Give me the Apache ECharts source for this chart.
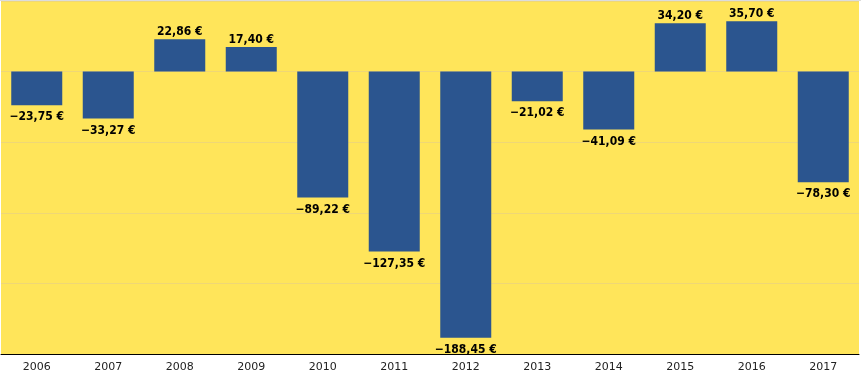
<!DOCTYPE html>
<html>
<head>
<meta charset="utf-8">
<script src="https://cdn.jsdelivr.net/npm/echarts@6/dist/echarts.min.js"></script>
<style>html,body{margin:0;padding:0;background:#fff;}#c{width:861px;height:391px;}</style>
</head>
<body>
<div id="c"></div>
<script>
const categories = ['2006','2007','2008','2009','2010','2011','2012','2013','2014','2015','2016','2017'];
const values = [-23.75, -33.27, 22.86, 17.40, -89.22, -127.35, -188.45, -21.02, -41.09, 34.20, 35.70, -78.30];

function fmt(v) {
  const s = Math.abs(v).toFixed(2).replace('.', ',');
  return (v < 0 ? '\u2212' : '') + s + ' \u20ac';
}

const chart = echarts.init(document.getElementById('c'));
chart.setOption({
  animation: false,
  backgroundColor: '#fff',
  grid: { left: 1, right: 2, top: 1, bottom: 37, show: true, backgroundColor: '#FFE55A', borderWidth: 0 },
  graphic: [{ type: 'rect', shape: { x: 0, y: 0, width: 861, height: 1 }, style: { fill: '#dcdcdc' } }],
  xAxis: {
    type: 'category', data: categories,
    axisLine: { onZero: false, lineStyle: { color: '#000', width: 1 } },
    axisTick: { show: false },
    axisLabel: { color: '#222', fontSize: 11, fontFamily: 'DejaVu Sans', margin: 8 }
  },
  yAxis: {
    type: 'value', min: -200, max: 50, interval: 50,
    axisLabel: { show: false }, axisLine: { show: false }, axisTick: { show: false },
    splitLine: { lineStyle: { color: '#EFD776', width: 1 } }
  },
  series: [{
    type: 'bar',
    barWidth: 51,
    data: values.map(v => ({
      value: v,
      label: { position: v < 0 ? 'bottom' : 'top', distance: v < 0 ? 6 : 1 }
    })),
    itemStyle: { color: '#2B558F' },
    label: {
      show: true, color: '#000', fontSize: 12, fontFamily: 'DejaVu Sans Condensed', fontWeight: 'bold',
      formatter: p => fmt(p.value)
    }
  }]
});
</script>
</body>
</html>
